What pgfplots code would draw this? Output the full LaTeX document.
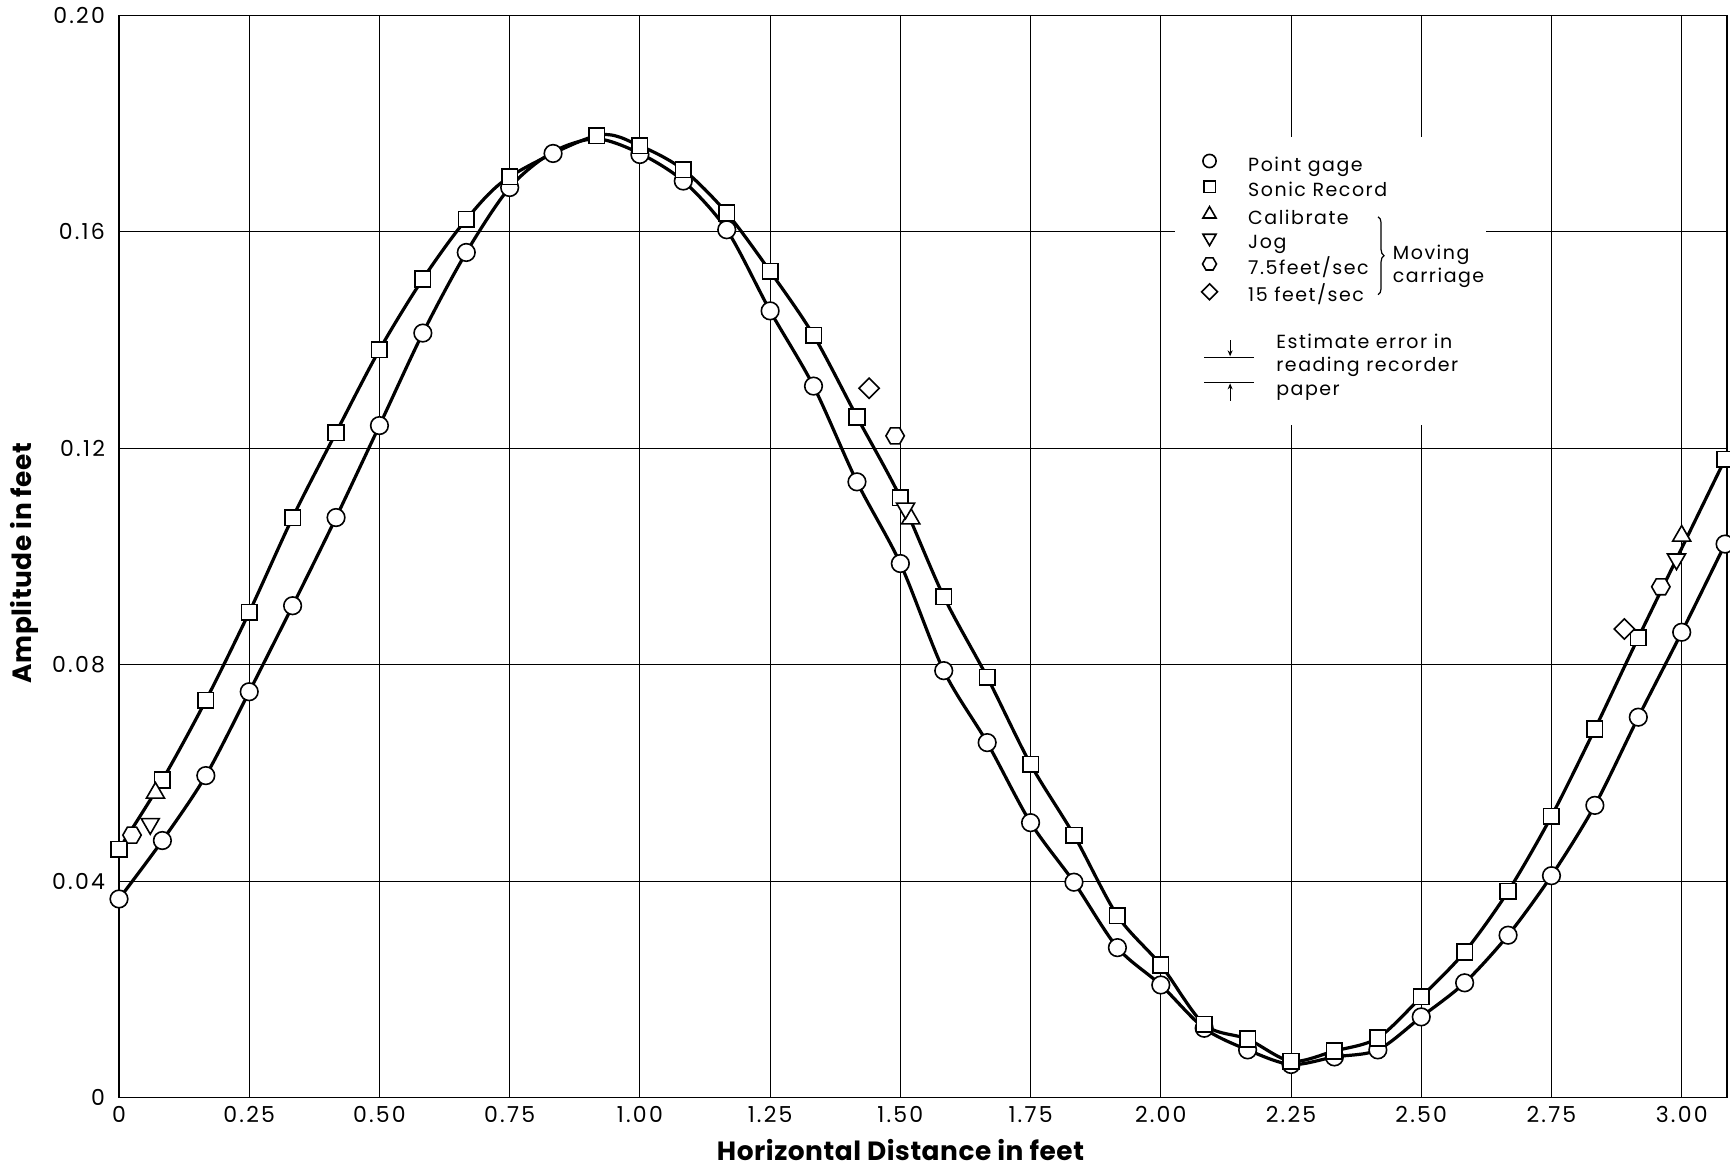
\documentclass[border=0pt]{standalone}
\usepackage{fontspec}
\setmainfont{Poppins}[LetterSpace=8]
\newfontfamily\tickfont{Poppins}[LetterSpace=10]
\newfontfamily\labelfont{Poppins}[LetterSpace=2]
\usepackage{pgfplots}
\usepackage{pgfplotstable}
\pgfplotsset{compat=1.18}
\usetikzlibrary{decorations.pathreplacing,arrows.meta}

\pgfdeclareplotmark{hexagon}{%
  \pgfpathmoveto{\pgfpointpolar{0}{\pgfplotmarksize}}%
  \pgfpathlineto{\pgfpointpolar{60}{\pgfplotmarksize}}%
  \pgfpathlineto{\pgfpointpolar{120}{\pgfplotmarksize}}%
  \pgfpathlineto{\pgfpointpolar{180}{\pgfplotmarksize}}%
  \pgfpathlineto{\pgfpointpolar{240}{\pgfplotmarksize}}%
  \pgfpathlineto{\pgfpointpolar{300}{\pgfplotmarksize}}%
  \pgfpathclose
  \pgfusepathqfillstroke}

\pgfplotstableread{
x y
0 0.0367
0.0833 0.0475
0.1667 0.0595
0.25 0.0750
0.3333 0.0909
0.4167 0.1072
0.5 0.1242
0.5833 0.1413
0.6667 0.1562
0.75 0.1682
0.8333 0.1745
1.0 0.1743
1.0833 0.1694
1.1667 0.1604
1.25 0.1454
1.3333 0.1315
1.4167 0.1138
1.5 0.0987
1.5833 0.0789
1.6667 0.0656
1.75 0.0508
1.8333 0.0398
1.9167 0.0277
2.0 0.0208
2.0833 0.0128
2.1667 0.0088
2.25 0.0061
2.3333 0.0075
2.4167 0.0088
2.5 0.0149
2.5833 0.0212
2.6667 0.0300
2.75 0.0410
2.8333 0.0540
2.9167 0.0703
3.0 0.0860
3.0833 0.1023
}\pointgage

% curve drawn through the point-gage readings (read off the faired line)
\pgfplotstableread{
x y
0 0.0367
0.0833 0.0475
0.1667 0.0595
0.25 0.0750
0.3333 0.0909
0.4167 0.1072
0.5 0.1242
0.5833 0.1413
0.6667 0.1562
0.75 0.1682
0.8333 0.1748
0.9167 0.1772
1.0 0.1745
1.0833 0.1694
1.1667 0.1604
1.25 0.1454
1.3333 0.1315
1.4167 0.1138
1.5 0.0987
1.5833 0.0789
1.6667 0.0656
1.75 0.0508
1.8333 0.0398
1.9167 0.0277
2.0 0.0208
2.0833 0.0128
2.1667 0.0088
2.25 0.0061
2.3333 0.0075
2.4167 0.0088
2.5 0.0149
2.5833 0.0212
2.6667 0.0300
2.75 0.0410
2.8333 0.0540
2.9167 0.0703
3.0 0.0860
3.0833 0.1023
}\pointgageline

\pgfplotstableread{
x y
0 0.0459
0.0833 0.0587
0.1667 0.0734
0.25 0.0897
0.3333 0.1072
0.4167 0.1229
0.5 0.1382
0.5833 0.1513
0.6667 0.1623
0.75 0.1702
0.9167 0.1778
1.0 0.1759
1.0833 0.1715
1.1667 0.1635
1.25 0.1527
1.3333 0.1409
1.4167 0.1258
1.5 0.1109
1.5833 0.0926
1.6667 0.0777
1.75 0.0616
1.8333 0.0485
1.9167 0.0336
2.0 0.0245
2.0833 0.0135
2.1667 0.0108
2.25 0.0067
2.3333 0.0086
2.4167 0.0110
2.5 0.0186
2.5833 0.0269
2.6667 0.0381
2.75 0.0520
2.8333 0.0681
2.9167 0.0850
3.0833 0.1180
}\sonic

\tikzset{mk/.style={draw=black, fill=white, line width=0.8pt}}
\pgfplotsset{
  pt/.style={only marks,
    legend image code/.code={\draw[mark repeat=2,mark phase=2,##1,mark size=#1]
      plot coordinates {(-4pt,2.7pt) (0pt,2.7pt) (4pt,2.7pt)};}},
}

\begin{document}
\begin{tikzpicture}
\begin{axis}[
  scale only axis, width=804pt, height=541pt,
  xmin=0, xmax=3.087, ymin=0, ymax=0.20,
  xtick={0,0.25,0.5,0.75,1.0,1.25,1.5,1.75,2.0,2.25,2.5,2.75,3.0},
  xticklabels={0,0.25,0.50,0.75,1.00,1.25,1.50,1.75,2.00,2.25,2.50,2.75,3.00},
  ytick={0,0.04,0.08,0.12,0.16,0.20},
  yticklabels={0,0.04,0.08,0.12,0.16,0.20},
  major tick length=0pt,
  grid=major,
  major grid style={black, line width=0.5pt},
  axis line style={black, line width=0.9pt},
  xticklabel style={font=\tickfont\fontsize{11}{12}\selectfont, yshift=-1pt},
  yticklabel style={font=\tickfont\fontsize{11}{12}\selectfont, xshift=-3.5pt},
  xlabel={Horizontal Distance in feet},
  ylabel={Amplitude in feet},
  xlabel style={at={(rel axis cs:0.486,-0.0485)}, anchor=center, font=\labelfont\bfseries\fontsize{13.2}{15}\selectfont},
  ylabel style={at={(rel axis cs:-0.0591,0.494)}, anchor=center, font=\labelfont\bfseries\fontsize{13.2}{15}\selectfont},
  legend style={at={(rel axis cs:0.673,0.872)}, anchor=north west, draw=none, fill=none,
    font=\fontsize{9.5}{11}\selectfont, inner sep=0pt, row sep=2.6pt,
    nodes={inner sep=0pt, text height=7pt, text depth=2.3pt},
    /tikz/every odd column/.append style={column sep=15.4pt}},
  legend cell align=left,
]
\addplot[smooth, black, line width=1.6pt, forget plot] table {\pointgageline};
\addplot[smooth, black, line width=1.6pt, forget plot] table {\sonic};

\addplot[pt=3.3pt, mark=*, mark size=4.4pt, mark options={mk}] table {\pointgage};
\addplot[pt=2.9pt, mark=square*, mark size=3.9pt, mark options={mk}] table {\sonic};
\addplot[pt=3.8pt, mark=triangle*, mark size=5.2pt, mark options={mk}] coordinates {(0.07,0.0563) (1.52,0.107) (3.0,0.1038)};
\addplot[pt=3.8pt, mark=triangle*, mark size=5.2pt, mark options={mk, rotate=180}] coordinates {(0.06,0.0506) (1.51,0.1089) (2.99,0.0995)};
\addplot[pt=3.5pt, mark=hexagon, mark size=4.6pt, mark options={mk}] coordinates {(0.025,0.0485) (1.49,0.1223) (2.96,0.0944)};
\addplot[pt=2.8pt, mark=square*, mark size=3.55pt, mark options={mk, rotate=45}] coordinates {(1.44,0.1311) (2.89,0.0866)};
\legend{Point gage, Sonic Record, Calibrate, Jog, 7.5feet/sec, 15 feet/sec}

\fill[white] (rel axis cs:0.657,0.622) rectangle (rel axis cs:0.850,0.888);
\draw[decorate, decoration={brace, amplitude=3pt}, line width=0.6pt]
  (rel axis cs:0.783,0.814) -- (rel axis cs:0.783,0.742);
\node[anchor=west, align=left, inner sep=0pt, font=\fontsize{9.5}{11.5}\selectfont]
  at (rel axis cs:0.792,0.7685) {Moving\\carriage};
\draw[line width=0.7pt] (rel axis cs:0.675,0.684) -- (rel axis cs:0.706,0.684);
\draw[line width=0.7pt] (rel axis cs:0.675,0.661) -- (rel axis cs:0.706,0.661);
\draw[line width=0.5pt, -{Stealth[length=3pt,width=2.5pt]}] (rel axis cs:0.691,0.700) -- (rel axis cs:0.691,0.685);
\draw[line width=0.5pt, -{Stealth[length=3pt,width=2.5pt]}] (rel axis cs:0.691,0.644) -- (rel axis cs:0.691,0.660);
\node[anchor=west, align=left, inner sep=0pt, font=\fontsize{9.5}{11.75}\selectfont]
  at (rel axis cs:0.7195,0.675) {Estimate error in\\reading recorder\\paper};
\end{axis}
\pgfresetboundingbox
\useasboundingbox ([xshift=-59.5pt,yshift=-35pt]current axis.south west) rectangle ([xshift=1.5pt,yshift=7.75pt]current axis.north east);
\end{tikzpicture}
\end{document}
